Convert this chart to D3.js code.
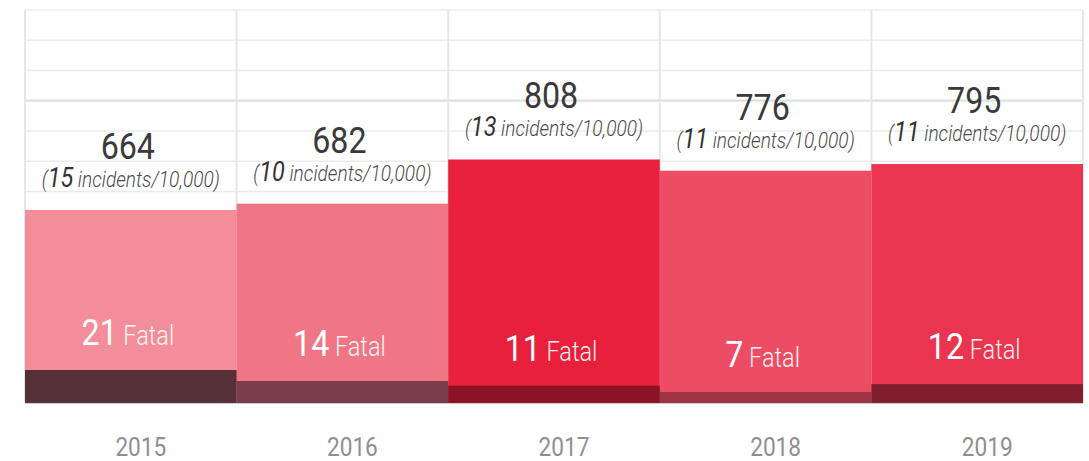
<!DOCTYPE html>
<html>
<head>
<meta charset="utf-8">
<script src="https://cdn.jsdelivr.net/npm/d3@7"></script>
<style>
  html, body { margin: 0; padding: 0; background: #ffffff; }
  svg { display: block; }
  text { font-family: Roboto, "Noto Sans", sans-serif; }
</style>
</head>
<body>
<svg id="chart" width="1089" height="461"></svg>
<script>
// Incidents per year, fatal count and rate per 10,000
const years = ["2015", "2016", "2017", "2018", "2019"];
const incidents = [664, 682, 808, 776, 795];
const fatal = [21, 14, 11, 7, 12];
const ratePer10k = [15, 10, 13, 11, 11];
const barColors = ["#f38d99", "#f07686", "#e8203b", "#ec4c64", "#e9354f"];
const fatalColors = ["#553037", "#7a3e4a", "#8a1424", "#9f3244", "#801e2d"];
const gridRows = 13;

(function draw() {
  const svg = d3.select("#chart");
  const plotL = 25, plotR = 1083, plotT = 10, plotB = 403;
  const condense = 0.87; // horizontal squeeze for a condensed look

  const x = d3.scaleBand().domain(years).range([plotL, plotR]).padding(0);
  const y = d3.scaleLinear().domain([114, 1234]).range([plotB, plotT]);
  const yFatal = d3.scaleLinear().domain([0, 21]).range([plotB, plotB - 33]);
  const yGrid = d3.scaleLinear().domain([0, gridRows]).range([plotB, plotT]);

  const rows = years.map((yr, i) => ({
    year: yr, total: incidents[i], fatal: fatal[i], rate: ratePer10k[i],
    color: barColors[i], dark: fatalColors[i]
  }));

  // background grid
  const grid = svg.append("g");
  grid.selectAll("line.h").data(d3.range(gridRows + 1)).join("line")
    .attr("class", "h")
    .attr("x1", plotL).attr("x2", plotR)
    .attr("y1", d => yGrid(d)).attr("y2", d => yGrid(d))
    .attr("stroke", d => d === 10 ? "#e0e0e0" : "#ebebeb")
    .attr("stroke-width", d => d === 10 ? 2.2 : 1.5);
  grid.selectAll("line.v").data(years.map(d => x(d)).concat([plotR])).join("line")
    .attr("class", "v")
    .attr("x1", d => d).attr("x2", d => d)
    .attr("y1", plotT).attr("y2", plotB)
    .attr("stroke", "#e6e6e6").attr("stroke-width", 2);

  // main bars
  svg.append("g").selectAll("rect").data(rows).join("rect")
    .attr("x", d => x(d.year)).attr("width", x.bandwidth())
    .attr("y", d => y(d.total)).attr("height", d => plotB - y(d.total))
    .attr("fill", d => d.color);

  // fatal portion
  svg.append("g").selectAll("rect").data(rows).join("rect")
    .attr("x", d => x(d.year)).attr("width", x.bandwidth())
    .attr("y", d => yFatal(d.fatal)).attr("height", d => plotB - yFatal(d.fatal))
    .attr("fill", d => d.dark);

  // baseline
  svg.append("line")
    .attr("x1", plotL).attr("x2", plotR).attr("y1", plotB).attr("y2", plotB)
    .attr("stroke", "#6b4a50").attr("stroke-opacity", 0.45).attr("stroke-width", 1);

  const cx = d => x(d.year) + x.bandwidth() / 2;

  // total labels
  svg.append("g").selectAll("text").data(rows).join("text")
    .attr("transform", d => `translate(${cx(d) - 3},${y(d.total) - 51}) scale(${condense},1)`)
    .attr("text-anchor", "middle")
    .attr("font-size", 37).attr("fill", "#3a3a3a")
    .text(d => d.total);

  // rate labels
  const rate = svg.append("g").selectAll("text").data(rows).join("text")
    .attr("transform", d => `translate(${cx(d)},${y(d.total) - 23}) scale(${condense},1)`)
    .attr("text-anchor", "middle")
    .attr("font-style", "italic").attr("font-weight", 300)
    .attr("font-size", 22).attr("fill", "#4a4a4a");
  rate.append("tspan").text("(");
  rate.append("tspan").attr("font-size", 27).attr("font-weight", 400).attr("fill", "#333")
    .text(d => d.rate);
  rate.append("tspan").text(" incidents/10,000)");

  // fatal labels
  const fl = svg.append("g").selectAll("text").data(rows).join("text")
    .attr("transform", d => `translate(${cx(d) - 3},${yFatal(d.fatal) - 25}) scale(${condense},1)`)
    .attr("text-anchor", "middle").attr("fill", "#ffffff");
  fl.append("tspan").attr("font-size", 37).attr("font-weight", 400).text(d => d.fatal);
  fl.append("tspan").attr("font-size", 27).attr("font-weight", 300).attr("fill-opacity", 0.95)
    .text(" Fatal");

  // year axis
  const axis = svg.append("g").attr("transform", `translate(10,${plotB})`)
    .call(d3.axisBottom(x).tickSize(0).tickPadding(0));
  axis.select(".domain").remove();
  axis.selectAll(".tick text")
    .attr("y", null).attr("dy", null)
    .attr("transform", `translate(0,53) scale(${condense},1)`)
    .attr("font-family", "Roboto, sans-serif")
    .attr("font-size", 26).attr("fill", "#8e8e93");
})();
</script>
</body>
</html>
